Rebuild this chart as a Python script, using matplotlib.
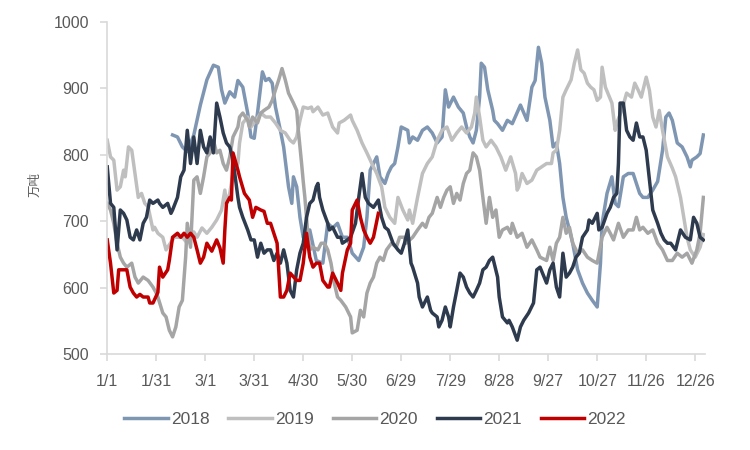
import matplotlib
matplotlib.use("Agg")
import matplotlib.pyplot as plt

plt.rcParams['font.family'] = ['Liberation Sans', 'DejaVu Sans']

# day of year (0 = 1/1) and stock level (万吨)
days_2018 = [40, 43, 46, 49, 53, 57, 61, 65, 68, 70, 72, 75, 78, 80, 83, 86, 88, 90, 92, 95,
             97, 99, 101, 103, 106, 108, 111, 113, 114, 116, 118, 120, 122, 124, 128, 132, 135, 138, 141, 144,
             147, 150, 154, 157, 159, 161, 163, 165, 167, 170, 172, 174, 176, 178, 180, 184, 185, 187, 190, 193,
             196, 199, 202, 205, 207, 209, 212, 215, 218, 220, 222, 224, 226, 228, 229, 231, 233, 236, 237, 239,
             242, 245, 248, 253, 257, 260, 262, 264, 266, 268, 271, 273, 275, 277, 279, 281, 283, 285, 288, 291,
             294, 297, 300, 302, 303, 306, 309, 311, 313, 316, 319, 322, 324, 326, 328, 331, 334, 337, 340, 342,
             344, 346, 349, 352, 355, 357, 358, 361, 363, 365]
vals_2018 = [830, 827, 812, 805, 830, 875, 913, 935, 932, 898, 878, 895, 887, 912, 902, 863, 827, 825, 863, 925,
             912, 915, 908, 872, 837, 812, 752, 727, 767, 752, 706, 676, 667, 687, 641, 637, 697, 690, 697, 676,
             676, 652, 641, 661, 706, 777, 787, 797, 767, 757, 772, 782, 787, 812, 842, 837, 818, 827, 822, 837,
             842, 833, 818, 827, 898, 872, 887, 872, 863, 842, 827, 818, 837, 887, 938, 932, 898, 867, 852, 847,
             837, 852, 847, 875, 852, 902, 912, 962, 938, 887, 852, 812, 818, 787, 736, 706, 687, 667, 627, 607,
             592, 581, 571, 637, 697, 742, 767, 727, 722, 767, 772, 772, 757, 742, 736, 736, 747, 760, 807, 857,
             863, 852, 818, 812, 797, 782, 792, 797, 802, 830]

days_2019 = [0, 2, 4, 6, 8, 10, 11, 13, 15, 17, 19, 21, 23, 25, 28, 29, 31, 34, 36, 37,
             40, 41, 43, 46, 49, 51, 53, 55, 58, 61, 64, 67, 70, 72, 73, 75, 77, 80, 81, 83,
             86, 88, 91, 94, 97, 100, 103, 106, 109, 112, 114, 116, 118, 120, 123, 125, 126, 129, 132, 135,
             138, 141, 142, 145, 149, 150, 153, 156, 159, 162, 165, 168, 170, 173, 176, 178, 181, 184, 185, 187,
             190, 193, 196, 199, 202, 205, 208, 211, 214, 217, 220, 223, 225, 226, 228, 230, 232, 235, 238, 241,
             244, 247, 250, 251, 252, 254, 257, 260, 263, 266, 269, 272, 273, 275, 277, 279, 281, 284, 286, 288,
             290, 292, 294, 296, 298, 300, 302, 303, 305, 309, 311, 312, 315, 318, 321, 323, 325, 327, 330, 332,
             334, 336, 338, 340, 343, 346, 348, 351, 353, 355, 357, 360, 363, 365]
vals_2019 = [822, 797, 792, 747, 752, 777, 767, 812, 807, 772, 736, 742, 727, 722, 687, 691, 682, 676, 657, 661,
             672, 676, 676, 676, 667, 684, 684, 676, 690, 682, 691, 702, 717, 747, 727, 742, 772, 787, 818, 848,
             857, 842, 852, 863, 857, 857, 848, 837, 833, 822, 818, 827, 852, 872, 870, 872, 865, 872, 860, 863,
             842, 833, 848, 852, 860, 852, 837, 818, 803, 787, 772, 752, 721, 706, 697, 736, 717, 702, 717, 697,
             736, 772, 787, 797, 822, 837, 842, 822, 833, 842, 833, 842, 863, 887, 857, 822, 812, 822, 812, 797,
             777, 797, 772, 747, 752, 772, 757, 762, 777, 782, 787, 787, 803, 807, 837, 887, 898, 913, 938, 958,
             928, 923, 908, 902, 898, 882, 887, 932, 902, 878, 837, 848, 867, 893, 887, 908, 898, 887, 917, 897,
             857, 842, 867, 837, 797, 780, 767, 736, 706, 676, 657, 646, 661, 680]

days_2020 = [0, 2, 4, 6, 8, 10, 12, 15, 17, 19, 22, 25, 28, 30, 31, 34, 36, 38, 40, 42,
             44, 46, 48, 49, 51, 53, 55, 57, 59, 61, 63, 65, 67, 69, 71, 73, 75, 77, 80, 81,
             83, 86, 87, 89, 92, 94, 96, 99, 101, 103, 105, 107, 109, 111, 114, 116, 117, 119, 120, 121,
             122, 123, 124, 126, 129, 131, 133, 135, 137, 139, 141, 143, 146, 149, 150, 153, 155, 157, 159, 161,
             163, 165, 167, 169, 171, 174, 177, 179, 182, 183, 187, 190, 193, 195, 197, 199, 202, 204, 206, 208,
             210, 212, 214, 216, 218, 220, 222, 224, 226, 228, 230, 232, 234, 236, 238, 240, 242, 245, 247, 248,
             251, 254, 257, 260, 263, 265, 269, 271, 273, 275, 277, 279, 281, 283, 285, 288, 291, 294, 297, 300,
             303, 306, 308, 310, 313, 316, 319, 322, 324, 326, 328, 331, 334, 337, 340, 343, 346, 349, 352, 355,
             358, 361, 363, 365]
vals_2020 = [727, 717, 697, 667, 646, 637, 631, 637, 616, 607, 616, 611, 601, 592, 586, 562, 556, 536, 526, 541,
             571, 581, 646, 697, 661, 762, 767, 742, 767, 797, 803, 822, 803, 807, 787, 777, 797, 827, 842, 857,
             863, 852, 842, 857, 848, 863, 867, 872, 882, 898, 913, 930, 913, 893, 878, 867, 837, 787, 760, 736,
             706, 676, 657, 661, 657, 667, 667, 657, 637, 607, 586, 581, 571, 556, 532, 536, 566, 556, 592, 607,
             616, 637, 646, 641, 657, 667, 661, 676, 676, 667, 676, 687, 697, 691, 706, 712, 736, 721, 736, 747,
             752, 727, 742, 732, 757, 772, 777, 803, 797, 777, 736, 697, 736, 706, 717, 676, 687, 691, 682, 697,
             676, 682, 661, 672, 657, 646, 641, 661, 641, 667, 676, 706, 682, 691, 667, 652, 657, 646, 641, 637,
             676, 691, 682, 672, 697, 676, 687, 687, 706, 687, 691, 682, 687, 667, 657, 641, 641, 652, 646, 652,
             637, 657, 682, 736]

days_2021 = [0, 2, 4, 6, 8, 10, 12, 14, 16, 18, 20, 22, 24, 26, 28, 31, 32, 34, 37, 39,
             40, 43, 45, 47, 49, 51, 53, 55, 57, 59, 61, 63, 65, 67, 69, 71, 73, 75, 77, 80,
             81, 83, 86, 88, 90, 92, 94, 96, 98, 100, 102, 104, 106, 108, 110, 112, 114, 116, 118, 120,
             122, 124, 126, 128, 129, 130, 132, 135, 136, 138, 141, 143, 144, 147, 149, 152, 154, 156, 158, 160,
             163, 166, 168, 170, 172, 175, 178, 180, 182, 184, 186, 187, 190, 191, 193, 196, 198, 199, 202, 203,
             205, 207, 209, 210, 212, 214, 216, 218, 220, 222, 224, 226, 228, 230, 232, 234, 236, 239, 240, 242,
             245, 246, 248, 251, 253, 255, 258, 261, 263, 265, 269, 271, 273, 275, 277, 279, 281, 283, 285, 287,
             289, 291, 294, 295, 297, 300, 301, 303, 306, 308, 310, 312, 313, 314, 316, 318, 320, 322, 324, 326,
             328, 330, 332, 334, 337, 339, 341, 343, 345, 348, 351, 354, 357, 359, 361, 363, 365]
vals_2021 = [782, 727, 721, 657, 717, 712, 702, 676, 672, 687, 672, 697, 706, 732, 727, 732, 727, 721, 727, 712,
             717, 736, 767, 777, 837, 787, 827, 787, 837, 812, 803, 827, 803, 878, 857, 833, 818, 812, 792, 736,
             721, 706, 687, 672, 672, 646, 667, 652, 657, 657, 641, 652, 637, 657, 637, 596, 586, 627, 652, 667,
             706, 727, 732, 752, 757, 736, 717, 697, 687, 691, 676, 676, 667, 672, 676, 697, 736, 772, 736, 727,
             721, 732, 706, 691, 687, 667, 657, 652, 667, 687, 637, 631, 607, 586, 571, 586, 566, 562, 556, 541,
             551, 571, 556, 541, 571, 596, 622, 616, 601, 592, 586, 596, 607, 627, 631, 641, 646, 616, 586, 556,
             547, 551, 541, 521, 541, 551, 562, 577, 627, 631, 607, 627, 637, 601, 586, 652, 616, 622, 631, 646,
             652, 676, 687, 702, 697, 712, 687, 691, 712, 721, 736, 742, 787, 878, 878, 837, 827, 822, 848, 827,
             827, 807, 762, 717, 697, 682, 672, 667, 667, 657, 687, 676, 672, 706, 697, 676, 672]

days_2022 = [0, 2, 4, 6, 7, 10, 12, 14, 16, 18, 20, 22, 25, 26, 28, 31, 32, 34, 37, 38,
             40, 43, 45, 47, 49, 51, 53, 55, 57, 59, 61, 64, 67, 69, 71, 72, 73, 75, 76, 77,
             80, 81, 84, 87, 89, 91, 94, 96, 98, 100, 102, 104, 106, 108, 110, 112, 116, 118, 120, 122,
             124, 126, 128, 130, 132, 135, 136, 138, 141, 143, 144, 147, 149, 150, 153, 155, 157, 159, 161, 163,
             166]
vals_2022 = [672, 637, 592, 596, 627, 627, 627, 601, 592, 586, 590, 586, 586, 577, 577, 593, 631, 616, 627, 641,
             676, 682, 676, 682, 676, 682, 676, 657, 637, 646, 667, 655, 672, 660, 637, 687, 727, 736, 732, 803,
             777, 767, 742, 732, 706, 721, 717, 715, 697, 697, 682, 667, 586, 586, 596, 622, 611, 611, 637, 682,
             646, 631, 637, 637, 611, 601, 601, 622, 607, 596, 622, 657, 667, 717, 732, 706, 687, 676, 667, 676,
             712]

tick_days = [0, 30, 60, 90, 120, 150, 180, 210, 240, 270, 300, 330, 360]
tick_labels = ["1/1", "1/31", "3/1", "3/31", "4/30", "5/30", "6/29", "7/29", "8/28", "9/27",
               "10/27", "11/26", "12/26"]

series = [
    ("2018", days_2018, vals_2018, "#7f96b3"),
    ("2019", days_2019, vals_2019, "#bfbfbf"),
    ("2020", days_2020, vals_2020, "#a5a5a5"),
    ("2021", days_2021, vals_2021, "#2e3b4e"),
    ("2022", days_2022, vals_2022, "#c00000"),
]

fig = plt.figure(figsize=(7.5, 4.5), dpi=100)
ax = fig.add_axes([0.143, 0.213, 0.797, 0.738])

for name, d, v, c in series:
    ax.plot(d, v, color=c, lw=2.5, label=name, solid_joinstyle="round")

ax.set_xlim(0, 366)
ax.set_ylim(500, 1000)
ax.set_yticks(range(500, 1001, 100))
ax.set_xticks(tick_days)
ax.set_xticklabels(tick_labels)

for s in ("top", "right"):
    ax.spines[s].set_visible(False)
for s in ("left", "bottom"):
    ax.spines[s].set_color("#d9d9d9")
    ax.spines[s].set_linewidth(1.2)
ax.tick_params(axis="both", colors="#d9d9d9", length=5, width=1.2, labelcolor="#595959", labelsize=11.5)
ax.tick_params(axis="x", pad=9)
ax.tick_params(axis="y", pad=8)

fig.text(0.047, 0.589, "万吨", rotation=90, ha="center", va="center", fontsize=9, color="#595959",
         family=["Noto Sans CJK SC", "DejaVu Sans"])

fig.legend(loc="center", bbox_to_anchor=(0.5, 0.067), ncol=5, frameon=False, fontsize=12.5,
           handlelength=2.5, handletextpad=0.17, columnspacing=1.1, labelcolor="#595959")

fig.savefig("out.png", dpi=100)
